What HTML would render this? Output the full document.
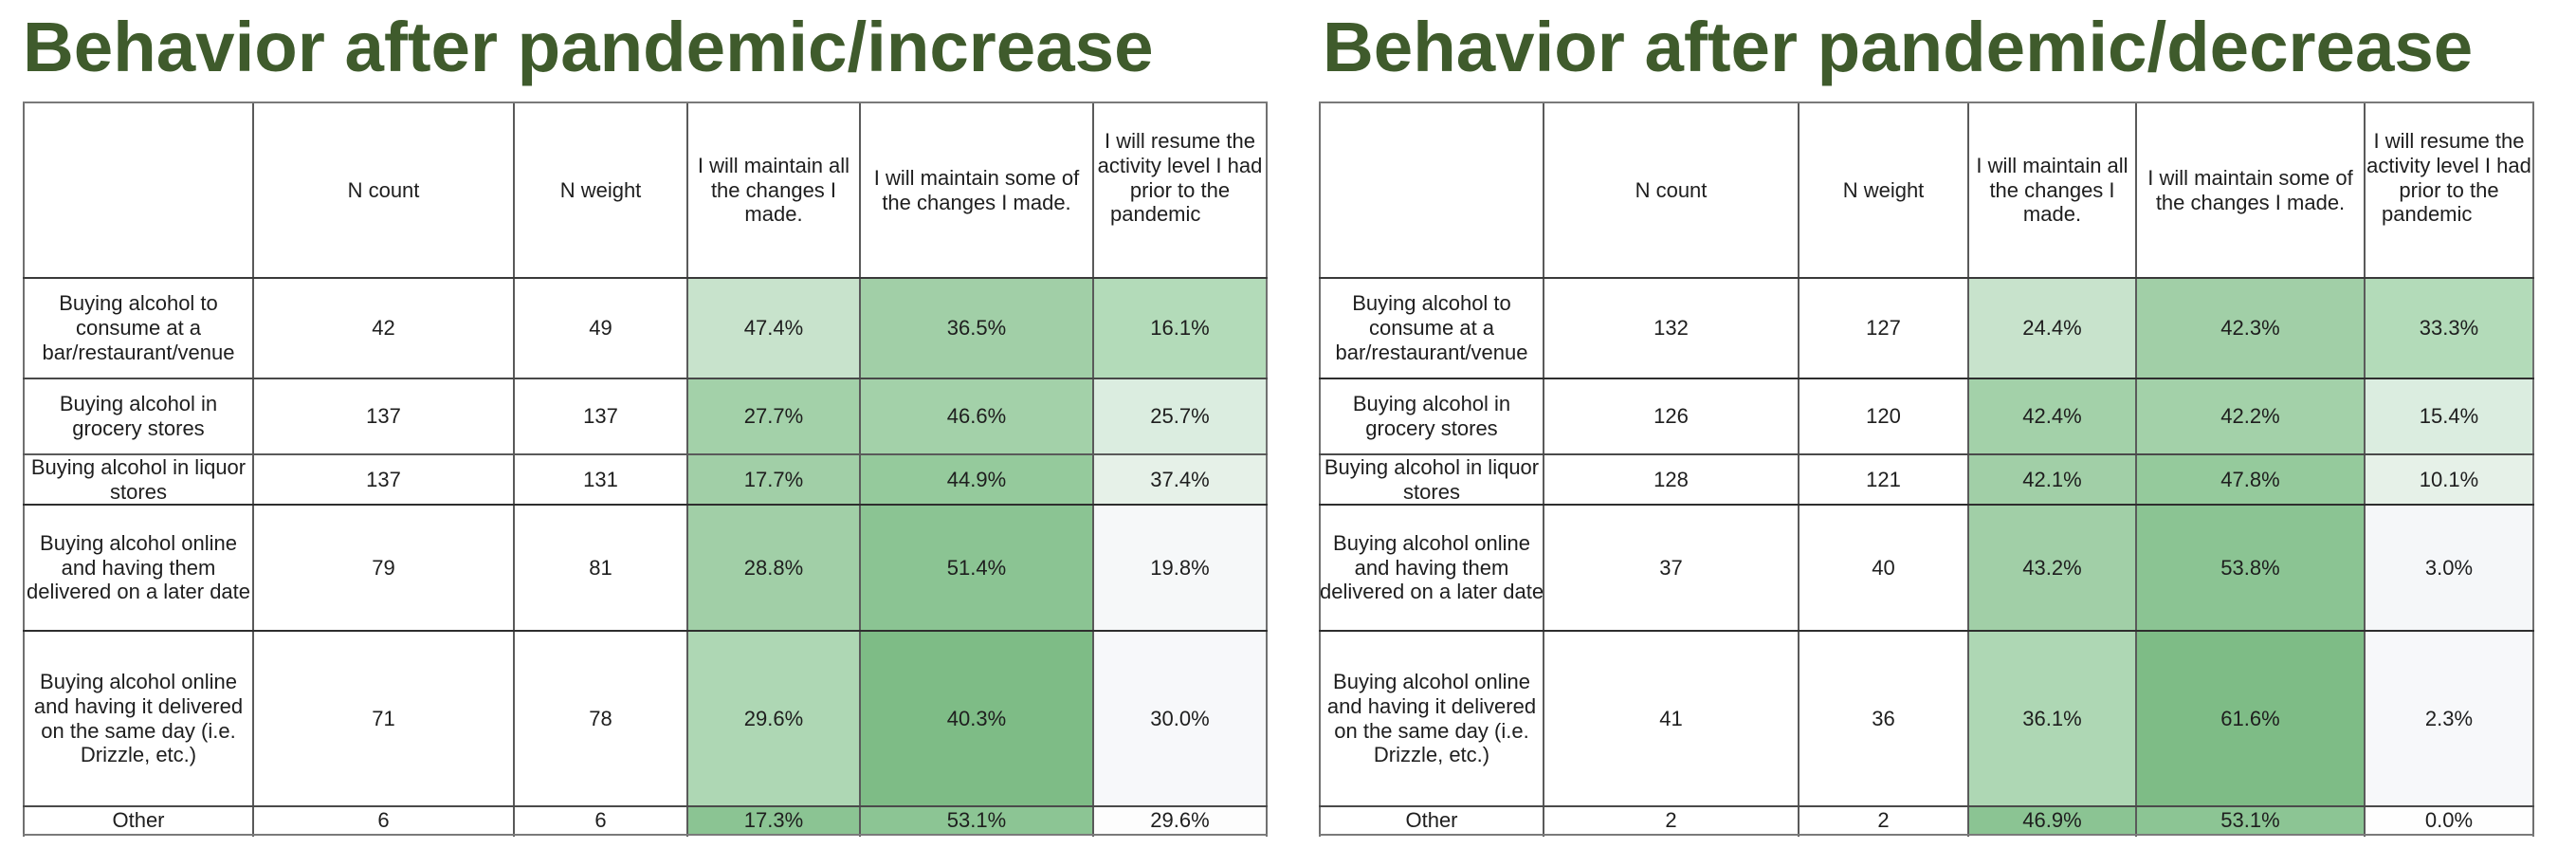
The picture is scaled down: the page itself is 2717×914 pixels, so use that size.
<!DOCTYPE html>
<html>
<head>
<meta charset="utf-8">
<style>
html,body{margin:0;padding:0;background:#fff;}
body{width:2717px;height:914px;position:relative;overflow:hidden;font-family:"Liberation Sans",Arial,sans-serif;}
.t{position:absolute;top:13px;font-family:"Liberation Sans",Arial,sans-serif;font-weight:bold;font-size:74.5px;line-height:74.5px;color:#3f5b2c;white-space:nowrap;letter-spacing:0px;}
.c{position:absolute;display:flex;align-items:center;justify-content:center;text-align:center;font-size:22px;line-height:25.7px;color:#1e1e1e;white-space:nowrap;}
.c>div{width:100%;}
.v{position:absolute;width:2px;background:#5a5a5a;}
.h{position:absolute;height:2px;background:#484848;}
</style>
</head>
<body>

<div class="t" style="left:24px;">Behavior after pandemic/increase</div>
<div class="t" style="left:1395px;">Behavior after pandemic/decrease</div>

<!-- ================= LEFT TABLE ================= -->
<!-- header -->
<div class="c" style="left:267px;top:108px;width:275px;height:185px;"><div>N count</div></div>
<div class="c" style="left:542px;top:108px;width:183px;height:185px;"><div>N weight</div></div>
<div class="c" style="left:725px;top:108px;width:182px;height:185px;"><div>I will maintain all<br>the changes I<br>made.</div></div>
<div class="c" style="left:907px;top:108px;width:246px;height:185px;"><div>I will maintain some of<br>the changes I made.</div></div>
<div class="c" style="left:1153px;top:108px;width:183px;height:185px;"><div>I will resume the<br>activity level I had<br>prior to the<div style="text-align:left;padding-left:18px;">pandemic</div>&nbsp;</div></div>

<!-- row 1 -->
<div class="c" style="left:25px;top:293px;width:242px;height:106px;"><div>Buying alcohol to<br>consume at a<br>bar/restaurant/venue</div></div>
<div class="c" style="left:267px;top:293px;width:275px;height:106px;"><div>42</div></div>
<div class="c" style="left:542px;top:293px;width:183px;height:106px;"><div>49</div></div>
<div class="c" style="left:725px;top:293px;width:182px;height:106px;background:#c8e3cc;"><div>47.4%</div></div>
<div class="c" style="left:907px;top:293px;width:246px;height:106px;background:#a1cfa7;"><div>36.5%</div></div>
<div class="c" style="left:1153px;top:293px;width:183px;height:106px;background:#b3dbb9;"><div>16.1%</div></div>

<!-- row 2 -->
<div class="c" style="left:25px;top:399px;width:242px;height:80px;"><div>Buying alcohol in<br>grocery stores</div></div>
<div class="c" style="left:267px;top:399px;width:275px;height:80px;"><div>137</div></div>
<div class="c" style="left:542px;top:399px;width:183px;height:80px;"><div>137</div></div>
<div class="c" style="left:725px;top:399px;width:182px;height:80px;background:#a3d1a9;"><div>27.7%</div></div>
<div class="c" style="left:907px;top:399px;width:246px;height:80px;background:#a3d1a9;"><div>46.6%</div></div>
<div class="c" style="left:1153px;top:399px;width:183px;height:80px;background:#dbede0;"><div>25.7%</div></div>

<!-- row 3 -->
<div class="c" style="left:25px;top:479px;width:242px;height:53px;"><div>Buying alcohol in liquor<br>stores</div></div>
<div class="c" style="left:267px;top:479px;width:275px;height:53px;"><div>137</div></div>
<div class="c" style="left:542px;top:479px;width:183px;height:53px;"><div>131</div></div>
<div class="c" style="left:725px;top:479px;width:182px;height:53px;background:#a1cfa7;"><div>17.7%</div></div>
<div class="c" style="left:907px;top:479px;width:246px;height:53px;background:#95ca9c;"><div>44.9%</div></div>
<div class="c" style="left:1153px;top:479px;width:183px;height:53px;background:#e6f1e8;"><div>37.4%</div></div>

<!-- row 4 -->
<div class="c" style="left:25px;top:532px;width:242px;height:133px;"><div>Buying alcohol online<br>and having them<br>delivered on a later date</div></div>
<div class="c" style="left:267px;top:532px;width:275px;height:133px;"><div>79</div></div>
<div class="c" style="left:542px;top:532px;width:183px;height:133px;"><div>81</div></div>
<div class="c" style="left:725px;top:532px;width:182px;height:133px;background:#a1cfa7;"><div>28.8%</div></div>
<div class="c" style="left:907px;top:532px;width:246px;height:133px;background:#8bc493;"><div>51.4%</div></div>
<div class="c" style="left:1153px;top:532px;width:183px;height:133px;background:#f6f8f9;"><div>19.8%</div></div>

<!-- row 5 -->
<div class="c" style="left:25px;top:665px;width:242px;height:185px;"><div>Buying alcohol online<br>and having it delivered<br>on the same day (i.e.<br>Drizzle, etc.)</div></div>
<div class="c" style="left:267px;top:665px;width:275px;height:185px;"><div>71</div></div>
<div class="c" style="left:542px;top:665px;width:183px;height:185px;"><div>78</div></div>
<div class="c" style="left:725px;top:665px;width:182px;height:185px;background:#aed7b4;"><div>29.6%</div></div>
<div class="c" style="left:907px;top:665px;width:246px;height:185px;background:#7ebc86;"><div>40.3%</div></div>
<div class="c" style="left:1153px;top:665px;width:183px;height:185px;background:#f7f8fa;"><div>30.0%</div></div>

<!-- row 6 -->
<div class="c" style="left:25px;top:850px;width:242px;height:30px;"><div>Other</div></div>
<div class="c" style="left:267px;top:850px;width:275px;height:30px;"><div>6</div></div>
<div class="c" style="left:542px;top:850px;width:183px;height:30px;"><div>6</div></div>
<div class="c" style="left:725px;top:850px;width:182px;height:30px;background:#8bc493;"><div>17.3%</div></div>
<div class="c" style="left:907px;top:850px;width:246px;height:30px;background:#8cc594;"><div>53.1%</div></div>
<div class="c" style="left:1153px;top:850px;width:183px;height:30px;background:#fdfdfd;"><div>29.6%</div></div>

<!-- left lines -->
<div class="v" style="left:24px;top:107px;height:775px;background:#707070;"></div>
<div class="v" style="left:266px;top:107px;height:775px;"></div>
<div class="v" style="left:541px;top:107px;height:775px;"></div>
<div class="v" style="left:724px;top:107px;height:775px;"></div>
<div class="v" style="left:906px;top:107px;height:775px;"></div>
<div class="v" style="left:1152px;top:107px;height:775px;"></div>
<div class="v" style="left:1335px;top:107px;height:775px;background:#707070;"></div>
<div class="h" style="left:24px;top:107px;width:1313px;background:#7a7a7a;"></div>
<div class="h" style="left:24px;top:292px;width:1313px;background:#3a3a3a;"></div>
<div class="h" style="left:24px;top:398px;width:1313px;"></div>
<div class="h" style="left:24px;top:478px;width:1313px;background:#5a5a5a;"></div>
<div class="h" style="left:24px;top:531px;width:1313px;background:#2e2e2e;"></div>
<div class="h" style="left:24px;top:664px;width:1313px;background:#2e2e2e;"></div>
<div class="h" style="left:24px;top:849px;width:1313px;background:#4a4a4a;"></div>
<div class="h" style="left:24px;top:879px;width:1313px;background:#7a7a7a;"></div>

<!-- ================= RIGHT TABLE ================= -->
<!-- header -->
<div class="c" style="left:1628px;top:108px;width:269px;height:185px;"><div>N count</div></div>
<div class="c" style="left:1897px;top:108px;width:179px;height:185px;"><div>N weight</div></div>
<div class="c" style="left:2076px;top:108px;width:177px;height:185px;"><div>I will maintain all<br>the changes I<br>made.</div></div>
<div class="c" style="left:2253px;top:108px;width:241px;height:185px;"><div>I will maintain some of<br>the changes I made.</div></div>
<div class="c" style="left:2494px;top:108px;width:178px;height:185px;overflow:hidden;"><div>I will resume the<br>activity level I had<br>prior to the<div style="text-align:left;padding-left:18px;">pandemic</div>&nbsp;</div></div>

<!-- row 1 -->
<div class="c" style="left:1392px;top:293px;width:236px;height:106px;"><div>Buying alcohol to<br>consume at a<br>bar/restaurant/venue</div></div>
<div class="c" style="left:1628px;top:293px;width:269px;height:106px;"><div>132</div></div>
<div class="c" style="left:1897px;top:293px;width:179px;height:106px;"><div>127</div></div>
<div class="c" style="left:2076px;top:293px;width:177px;height:106px;background:#c8e3cc;"><div>24.4%</div></div>
<div class="c" style="left:2253px;top:293px;width:241px;height:106px;background:#a1cfa7;"><div>42.3%</div></div>
<div class="c" style="left:2494px;top:293px;width:178px;height:106px;background:#b3dbb9;"><div>33.3%</div></div>

<!-- row 2 -->
<div class="c" style="left:1392px;top:399px;width:236px;height:80px;"><div>Buying alcohol in<br>grocery stores</div></div>
<div class="c" style="left:1628px;top:399px;width:269px;height:80px;"><div>126</div></div>
<div class="c" style="left:1897px;top:399px;width:179px;height:80px;"><div>120</div></div>
<div class="c" style="left:2076px;top:399px;width:177px;height:80px;background:#a3d1a9;"><div>42.4%</div></div>
<div class="c" style="left:2253px;top:399px;width:241px;height:80px;background:#a3d1a9;"><div>42.2%</div></div>
<div class="c" style="left:2494px;top:399px;width:178px;height:80px;background:#dbede0;"><div>15.4%</div></div>

<!-- row 3 -->
<div class="c" style="left:1392px;top:479px;width:236px;height:53px;"><div>Buying alcohol in liquor<br>stores</div></div>
<div class="c" style="left:1628px;top:479px;width:269px;height:53px;"><div>128</div></div>
<div class="c" style="left:1897px;top:479px;width:179px;height:53px;"><div>121</div></div>
<div class="c" style="left:2076px;top:479px;width:177px;height:53px;background:#a1cfa7;"><div>42.1%</div></div>
<div class="c" style="left:2253px;top:479px;width:241px;height:53px;background:#95ca9c;"><div>47.8%</div></div>
<div class="c" style="left:2494px;top:479px;width:178px;height:53px;background:#e6f1e8;"><div>10.1%</div></div>

<!-- row 4 -->
<div class="c" style="left:1392px;top:532px;width:236px;height:133px;"><div>Buying alcohol online<br>and having them<br>delivered on a later date</div></div>
<div class="c" style="left:1628px;top:532px;width:269px;height:133px;"><div>37</div></div>
<div class="c" style="left:1897px;top:532px;width:179px;height:133px;"><div>40</div></div>
<div class="c" style="left:2076px;top:532px;width:177px;height:133px;background:#a1cfa7;"><div>43.2%</div></div>
<div class="c" style="left:2253px;top:532px;width:241px;height:133px;background:#8bc493;"><div>53.8%</div></div>
<div class="c" style="left:2494px;top:532px;width:178px;height:133px;background:#f5f7f9;"><div>3.0%</div></div>

<!-- row 5 -->
<div class="c" style="left:1392px;top:665px;width:236px;height:185px;"><div>Buying alcohol online<br>and having it delivered<br>on the same day (i.e.<br>Drizzle, etc.)</div></div>
<div class="c" style="left:1628px;top:665px;width:269px;height:185px;"><div>41</div></div>
<div class="c" style="left:1897px;top:665px;width:179px;height:185px;"><div>36</div></div>
<div class="c" style="left:2076px;top:665px;width:177px;height:185px;background:#aed7b4;"><div>36.1%</div></div>
<div class="c" style="left:2253px;top:665px;width:241px;height:185px;background:#7ebc86;"><div>61.6%</div></div>
<div class="c" style="left:2494px;top:665px;width:178px;height:185px;background:#f7f8fa;"><div>2.3%</div></div>

<!-- row 6 -->
<div class="c" style="left:1392px;top:850px;width:236px;height:30px;"><div>Other</div></div>
<div class="c" style="left:1628px;top:850px;width:269px;height:30px;"><div>2</div></div>
<div class="c" style="left:1897px;top:850px;width:179px;height:30px;"><div>2</div></div>
<div class="c" style="left:2076px;top:850px;width:177px;height:30px;background:#8bc493;"><div>46.9%</div></div>
<div class="c" style="left:2253px;top:850px;width:241px;height:30px;background:#8cc594;"><div>53.1%</div></div>
<div class="c" style="left:2494px;top:850px;width:178px;height:30px;background:#fefefe;"><div>0.0%</div></div>

<!-- right lines -->
<div class="v" style="left:1391px;top:107px;height:775px;background:#707070;"></div>
<div class="v" style="left:1627px;top:107px;height:775px;"></div>
<div class="v" style="left:1896px;top:107px;height:775px;"></div>
<div class="v" style="left:2075px;top:107px;height:775px;"></div>
<div class="v" style="left:2252px;top:107px;height:775px;"></div>
<div class="v" style="left:2493px;top:107px;height:775px;"></div>
<div class="v" style="left:2671px;top:107px;height:775px;background:#707070;"></div>
<div class="h" style="left:1391px;top:107px;width:1282px;background:#7a7a7a;"></div>
<div class="h" style="left:1391px;top:292px;width:1282px;background:#3a3a3a;"></div>
<div class="h" style="left:1391px;top:398px;width:1282px;background:#2e2e2e;"></div>
<div class="h" style="left:1391px;top:478px;width:1282px;background:#4a4a4a;"></div>
<div class="h" style="left:1391px;top:531px;width:1282px;background:#2e2e2e;"></div>
<div class="h" style="left:1391px;top:664px;width:1282px;background:#2e2e2e;"></div>
<div class="h" style="left:1391px;top:849px;width:1282px;background:#4a4a4a;"></div>
<div class="h" style="left:1391px;top:879px;width:1282px;background:#7a7a7a;"></div>

</body>
</html>
